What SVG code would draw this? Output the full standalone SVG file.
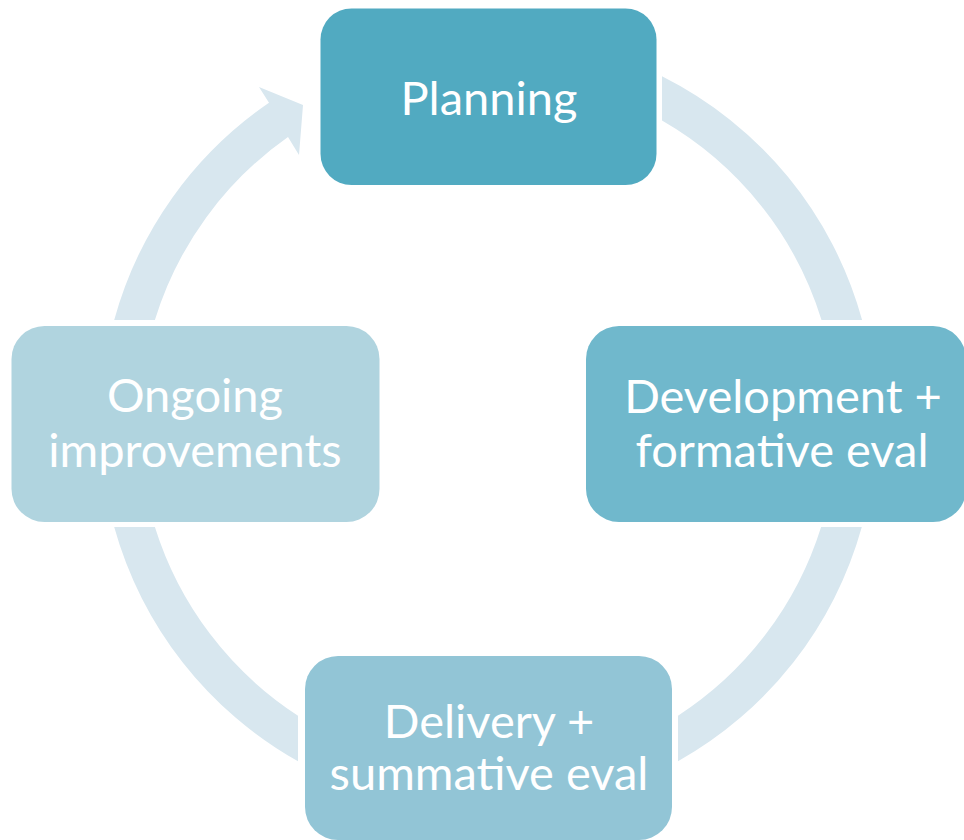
<svg xmlns="http://www.w3.org/2000/svg" width="964" height="840" viewBox="0 0 964 840">
  <style>
    .arc { fill: #D8E7EF; }
    .lbl { font-family: "Lato", "Open Sans", "Liberation Sans", sans-serif; font-size: 47px; fill: #FFFFFF; text-anchor: middle; }
  </style>
  <rect width="964" height="840" fill="#FFFFFF"/>

  <!-- cycle arcs, ring centred at (488,423), inner r 349, outer r 388 -->
  <g id="connectors">
    <path id="arc-plan-dev" class="arc" d="M662,76.2 A388,388 0 0 1 862.1,320 L821.5,320 A349,349 0 0 0 662,120.5 Z"/>
    <path id="arc-dev-del" class="arc" d="M861.8,527 A388,388 0 0 1 678,761.3 L678,715.7 A349,349 0 0 0 821.1,527 Z"/>
    <path id="arc-del-ong" class="arc" d="M298,761.3 A388,388 0 0 1 114.2,527 L154.9,527 A349,349 0 0 0 298,715.7 Z"/>
    <path id="arc-ong-plan" class="arc" d="M114.2,320 A388,388 0 0 1 269,102.7 L259,87 L303,105 L299,155 L288,137 A349,349 0 0 0 154.9,320 Z"/>
  </g>

  <g id="planning">
    <rect x="320.5" y="8.5" width="336" height="176.5" rx="31" fill="#51AAC1"/>
    <text class="lbl" x="489" y="115">Planning</text>
  </g>

  <g id="development">
    <rect x="586" y="326" width="380" height="196" rx="33" fill="#70B8CC"/>
    <text class="lbl" x="783" y="413">Development +</text>
    <text class="lbl" x="782" y="467">formative eval</text>
  </g>

  <g id="delivery">
    <rect x="305" y="656" width="367" height="184" rx="33" fill="#92C5D6"/>
    <text class="lbl" x="489" y="738">Delivery +</text>
    <text class="lbl" x="489" y="790">summative eval</text>
  </g>

  <g id="ongoing">
    <rect x="11.5" y="326" width="368" height="196" rx="33" fill="#B0D4DF"/>
    <text class="lbl" x="195" y="412">Ongoing</text>
    <text class="lbl" x="195" y="467">improvements</text>
  </g>
</svg>
